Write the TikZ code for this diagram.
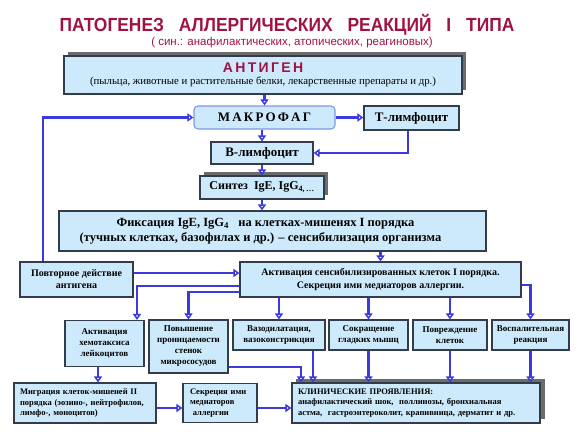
\documentclass[tikz,border=0pt]{standalone}
\usepackage{graphicx}
\usepackage{fontspec}
\setmainfont{Liberation Serif}
\setsansfont{Liberation Sans}
\usetikzlibrary{arrows.meta,shadows}
\definecolor{boxfill}{RGB}{204,234,251}
\definecolor{boxline}{RGB}{50,60,75}
\definecolor{arrowblue}{RGB}{58,58,222}
\definecolor{titlered}{RGB}{160,18,66}
\definecolor{macroline}{RGB}{125,150,230}

\begin{document}
\begin{tikzpicture}[x=1pt, y=-1pt,
        box/.style={draw=boxline, line width=1.1pt, fill=boxfill, inner sep=1pt, align=center,
            font=\bfseries\fontsize{8.5}{10.5}\selectfont},
        effect/.style={box, font=\bfseries\fontsize{9}{11}\selectfont},
        shadowbox/.style={box, drop shadow={shadow xshift=4pt, shadow yshift=4.5pt, fill=gray!85!black, opacity=1}},
        arrow/.style={draw=arrowblue, line width=2.5pt, -{Triangle[open, length=6pt, width=8pt, line width=1.5pt]}}
    ]
        \useasboundingbox (0,0) rectangle (578,434);

        \node[anchor=base, text=titlered, font=\sffamily\bfseries\fontsize{19}{19}\selectfont] (title) at (287,31)
            {\scalebox{0.915}[1]{ПАТОГЕНЕЗ\hspace{11pt} АЛЛЕРГИЧЕСКИХ\hspace{11pt} РЕАКЦИЙ\hspace{11pt} I\hspace{11pt} ТИПА}};
        \node[anchor=base, text=titlered, font=\sffamily\fontsize{11.5}{11.5}\selectfont] (subtitle) at (292,45.5)
            {( син.: анафилактических, атопических, реагиновых)};

        \node[shadowbox, minimum width=398pt, minimum height=38pt] (antigen) at (263,75)
            {\textcolor{titlered}{\sffamily\fontsize{14}{14}\selectfont А\,Н\,Т\,И\,Г\,Е\,Н}\\[1.5pt]
             {\mdseries\fontsize{10.8}{12}\selectfont (пыльца, животные и растительные белки, лекарственные препараты и др.)}};
        \node[box, draw=macroline, rounded corners=4pt, minimum width=141pt, minimum height=23pt,
            font=\bfseries\fontsize{13}{13}\selectfont] (macro) at (264.5,117.5) {М\,А\,К\,Р\,О\,Ф\,А\,Г};
        \node[box, minimum width=95pt, minimum height=24pt, font=\bfseries\fontsize{13}{13}\selectfont] (tlym) at (411.5,118) {Т-лимфоцит};
        \node[box, minimum width=102pt, minimum height=22pt, font=\bfseries\fontsize{13}{13}\selectfont] (blym) at (262,153) {В-лимфоцит};
        \node[shadowbox, minimum width=124pt, minimum height=23pt, font=\bfseries\fontsize{12}{12}\selectfont] (synth) at (262,187.5)
            {Синтез\ \ IgE, IgG\textsubscript{4,\,\ldots}};
        \node[box, minimum width=427pt, minimum height=40pt, font=\bfseries\fontsize{12.5}{15}\selectfont] (fix) at (272.5,231)
            {Фиксация IgE, IgG\textsubscript{4}\ \ \ на клетках-мишенях I порядка\hspace*{14pt}\\
             (тучных клетках, базофилах и др.) -- сенсибилизация организма\hspace*{24pt}};

        \node[box, minimum width=113pt, minimum height=35pt, font=\bfseries\fontsize{10}{12}\selectfont] (again) at (76.5,279.5)
            {Повторное действие\\антигена};
        \node[box, minimum width=281pt, minimum height=35pt, font=\bfseries\fontsize{10}{13}\selectfont] (activ) at (380.5,279.5)
            {Активация сенсибилизированных клеток I порядка.\\Секреция ими медиаторов аллергии.};

        \node[effect, minimum width=79pt, minimum height=46pt] (chemo) at (104.5,343.5) {Активация\\хемотаксиса\\лейкоцитов};
        \node[effect, minimum width=79pt, minimum height=53pt] (perm) at (188.5,346.5) {Повышение\\проницаемости\\стенок\\микрососудов};
        \node[effect, minimum width=92pt, minimum height=30pt] (vaso) at (279,335) {Вазодилатация,\\вазоконстрикция};
        \node[effect, minimum width=79pt, minimum height=30pt] (smooth) at (368.5,335) {Сокращение\\гладких мышц};
        \node[effect, minimum width=74pt, minimum height=30pt] (damage) at (450,335) {Повреждение\\клеток};
        \node[effect, minimum width=77pt, minimum height=30pt] (inflam) at (530.5,335) {Воспалительная\\реакция};

        \node[box, align=left, text width=130pt, inner xsep=6pt, minimum height=40pt] (migr) at (85,403)
            {Миграция клеток-мишеней II\\порядка (эозино-, нейтрофилов,\\лимфо-, моноцитов)};
        \node[box, align=left, text width=60pt, inner xsep=7pt, minimum height=39pt] (secr) at (220,403)
            {Секреция ими\\медиаторов\\\ аллергии};
        \node[shadowbox, align=left, text width=236pt, inner xsep=6pt, minimum height=40pt,
            drop shadow={shadow xshift=5pt, shadow yshift=4pt, fill=gray!85!black, opacity=1}] (clin) at (416,403)
            {КЛИНИЧЕСКИЕ ПРОЯВЛЕНИЯ:\\анафилактический шок,\ \ поллинозы, бронхиальная\\астма,\ \ гастроэнтероколит, крапивница, дерматит и др.};

        \draw[arrow] (antigen.south -| macro.north) -- (macro.north);
        \draw[arrow] (macro.east) -- (macro.east -| tlym.west);
        \draw[arrow] ([xshift=-3.5pt]tlym.south) |- (blym.east);
        \draw[arrow] (macro.south -| blym.north) -- (blym.north);
        \draw[arrow] (blym.south) -- (synth.north);
        \draw[arrow] (synth.south) -- (synth.south |- fix.north);
        \draw[arrow] ([xshift=-33.5pt]again.north) |- (macro.west);
        \draw[arrow] (fix.south -| activ.north) -- (activ.north);
        \draw[arrow] ([yshift=6.5pt]again.east) -- ([yshift=6.5pt]activ.west);

        \draw[arrow] ([yshift=-6.5pt]activ.west) -| ([xshift=32.5pt]chemo.north);
        \draw[arrow] ([yshift=-12.5pt]activ.west) -| (perm.north);
        \draw[arrow] (activ.south -| vaso.north) -- (vaso.north);
        \draw[arrow] (activ.south -| smooth.north) -- (smooth.north);
        \draw[arrow] (activ.south -| damage.north) -- (damage.north);
        \draw[arrow] ([yshift=-5.5pt]activ.east) -| (inflam.north);

        \draw[arrow] ([xshift=-6.5pt]chemo.south) -- ([xshift=13pt]migr.north);
        \draw[arrow] ([yshift=-5pt]migr.east) -- ([yshift=-5pt]secr.west);
        \draw[arrow] ([yshift=-5pt]secr.east) -- ([yshift=-5pt]clin.west);
        \draw[arrow] ([yshift=-20.5pt]perm.east) -| ([xshift=-115pt]clin.north);
        \draw[arrow] ([xshift=34pt]vaso.south) -- ([xshift=-103pt]clin.north);
        \draw[arrow] (smooth.south) -- (smooth.south |- clin.north);
        \draw[arrow] (damage.south) -- (damage.south |- clin.north);
        \draw[arrow] (inflam.south) -- (inflam.south |- clin.north);
    \end{tikzpicture}
\end{document}
